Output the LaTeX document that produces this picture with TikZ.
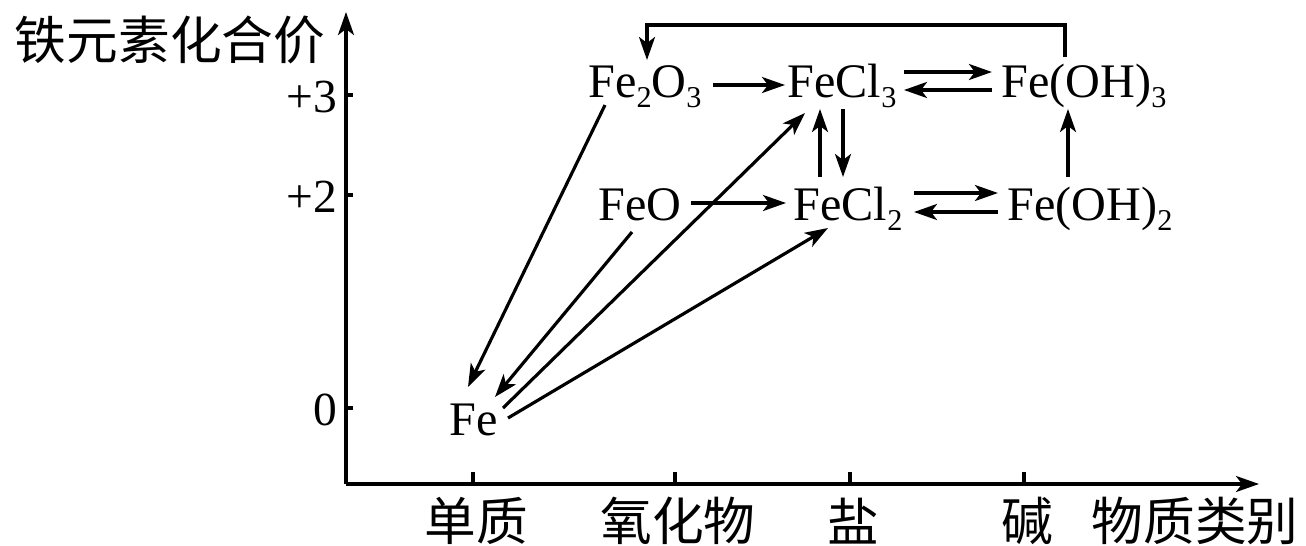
\documentclass[tikz,border=0pt]{standalone}
\usepackage{fontspec}
\setmainfont{Liberation Serif}
\newfontfamily\cjk{Noto Sans CJK SC}
\usetikzlibrary{arrows.meta}

\newcommand{\chemsub}[1]{\raisebox{-3pt}{\fontsize{8.6}{9}\selectfont #1}}

\begin{document}
\begin{tikzpicture}[
    x=0.01cm, y=-0.01cm,
    line width=0.9pt,
    >={Stealth[length=2.3mm, width=1.6mm, inset=0.6mm]},
    chem/.style={
        inner sep=0pt,
        anchor=base,
        font=\fontsize{13.7}{16}\selectfont
    },
    valence/.style={
        inner sep=0pt,
        anchor=east,
        font=\fontsize{13.5}{16}\selectfont
    },
    category/.style={
        inner sep=0pt,
        font=\cjk\fontsize{14.7}{17}\selectfont
    }
]
\useasboundingbox (0,0) rectangle (1306,545);

\coordinate (origin) at (346,484);
\coordinate (ytip) at (346,12);
\coordinate (xtip) at (1259,484);
\draw[->] (origin) -- (ytip);
\draw[->] (origin) -- (xtip);

\foreach \y/\v in {95/+3, 195/+2, 408/0} {
    \draw (346,\y) -- +(7,0);
    \node[valence] (val\y) at (339,\y+2) {\v};
}
\foreach \x/\c in {473/单质, 675/氧化物, 850/盐, 1024/碱} {
    \draw (\x,484) -- +(0,-12);
    \node[category] (cat\x) at (\x+3,521) {\c};
}
\node[category] (xname) at (1195,521) {物质类别};
\node[category] (yname) at (170,40) {铁元素化合价};

\node[chem] (fe2o3) at (645,97) {Fe\chemsub{2}O\chemsub{3}};
\node[chem] (fecl3) at (842,97) {FeCl\chemsub{3}};
\node[chem] (feoh3) at (1084,97) {Fe(OH)\chemsub{3}};
\node[chem] (feo) at (640,220) {FeO};
\node[chem] (fecl2) at (848,220) {FeCl\chemsub{2}};
\node[chem] (feoh2) at (1090,220) {Fe(OH)\chemsub{2}};
\node[chem] (fe) at (474,435) {Fe};

\draw[->] ([shift={(10,-12)}]fe2o3.base east) -- ([shift={(-1,-12)}]fecl3.base west);
\draw[->] ([shift={(8,-17)}]feo.base east) -- ([shift={(-6,-17)}]fecl2.base west);

\draw[->] ([shift={(6,-25)}]fecl3.base east) -- ([shift={(-8,-25)}]feoh3.base west);
\draw[->] ([shift={(-8,-7)}]feoh3.base west) -- ([shift={(6,-7)}]fecl3.base east);
\draw[->] ([shift={(10,-27)}]fecl2.base east) -- ([shift={(-8,-27)}]feoh2.base west);
\draw[->] ([shift={(-8,-8)}]feoh2.base west) -- ([shift={(10,-8)}]fecl2.base east);

\draw[->] ([shift={(-28,-43)}]fecl2.base) -- ([shift={(-22,12)}]fecl3.base);
\draw[->] ([shift={(1,12)}]fecl3.base) -- ([shift={(-5,-43)}]fecl2.base);
\draw[->] ([shift={(-22,-43)}]feoh2.base) -- ([shift={(-16,12)}]feoh3.base);

\draw[->] ([shift={(-19,-40)}]feoh3.base) |- ([shift={(2,-72)}]fe2o3.base) -- ([shift={(2,-37)}]fe2o3.base);

\draw[->] ([shift={(-40,8)}]fe2o3.base) -- ([shift={(-6,-48)}]fe.base);
\draw[->] ([shift={(-8,12)}]feo.base) -- ([shift={(21,-38)}]fe.base);
\draw[->] ([shift={(29,-27)}]fe.base) -- ([shift={(-37,16)}]fecl3.base);
\draw[->] ([shift={(34,-17)}]fe.base) -- ([shift={(-20,8)}]fecl2.base);

\end{tikzpicture}
\end{document}
